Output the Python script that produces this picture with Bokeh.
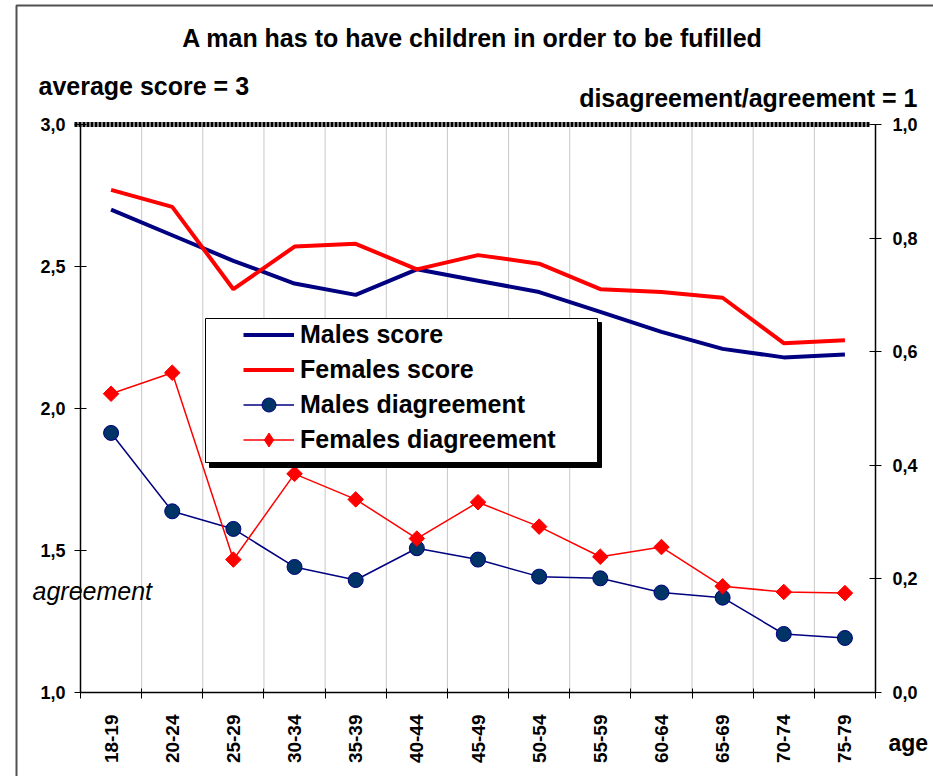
import math
from bokeh.plotting import figure
from bokeh.models import (Range1d, LinearAxis, FixedTicker, CustomJSTickFormatter, Label,
                          Legend, LegendItem, BoxAnnotation)
from bokeh.embed import file_html
from bokeh.resources import INLINE

# ---------------- data ----------------
AGE_GROUPS = ["18-19", "20-24", "25-29", "30-34", "35-39", "40-44", "45-49",
              "50-54", "55-59", "60-64", "65-69", "70-74", "75-79"]
MALES_SCORE = [2.70, 2.61, 2.52, 2.44, 2.40, 2.49, 2.45, 2.41, 2.34, 2.27, 2.21, 2.18, 2.19]
FEMALES_SCORE = [2.77, 2.71, 2.42, 2.57, 2.58, 2.49, 2.54, 2.51, 2.42, 2.41, 2.39, 2.23, 2.24]
MALES_DISAGREE = [0.457, 0.319, 0.288, 0.221, 0.198, 0.254, 0.234, 0.204, 0.201, 0.176, 0.167, 0.103, 0.096]
FEMALES_DISAGREE = [0.526, 0.563, 0.234, 0.385, 0.340, 0.271, 0.335, 0.292, 0.239, 0.256, 0.187, 0.177, 0.175]
SCORE_TICKS = [1.0, 1.5, 2.0, 2.5, 3.0]
RATIO_TICKS = [0.0, 0.2, 0.4, 0.6, 0.8, 1.0]
AVERAGE_SCORE = 3.0

FONT = "Liberation Sans"
NAVY = "#000080"
RED = "#ff0000"
GRID = "#c8c8c8"

# ---------------- geometry (canvas pixels) ----------------
W, H = 933, 776
PL, PR, PT, PB = 80, 875, 124, 692          # plot area edges
N = len(AGE_GROUPS)
Y0, Y1 = SCORE_TICKS[0], SCORE_TICKS[-1]
R0, R1 = RATIO_TICKS[0], RATIO_TICKS[-1]
kx = N / (PR - PL)
ky = (Y1 - Y0) / (PB - PT)
kr = (R1 - R0) / (PB - PT)


def px_x(px):
    return (px - PL) * kx


def px_y(py):
    return Y1 - (py - PT) * ky


xs = [i + 0.5 for i in range(N)]
bounds = list(range(N + 1))

p = figure(width=W, height=H,
           x_range=Range1d(-PL * kx, N + (W - PR) * kx),
           y_range=Range1d(Y0 - (H - PB) * ky, Y1 + PT * ky),
           x_axis_type=None, y_axis_type=None,
           output_backend="svg", toolbar_location=None,
           min_border=0, outline_line_color=None,
           background_fill_color="white", border_fill_color="white")
p.extra_y_ranges = {"ratio": Range1d(R0 - (H - PB) * kr, R1 + PT * kr)}
p.xgrid.visible = False
p.ygrid.visible = False

# outer chart border (top and left edges)
p.add_layout(BoxAnnotation(left=px_x(16), right=px_x(W + 20), top=px_y(5), bottom=px_y(H + 20),
                           fill_alpha=0, line_color="#505050", line_alpha=1, line_width=2))

# vertical grid lines at category boundaries
inner = bounds[1:-1]
p.segment(x0=inner, x1=inner, y0=[Y0] * len(inner), y1=[Y1] * len(inner),
          line_color=GRID, line_width=1)

# axes, pinned to the plot-area edges
xaxis = LinearAxis(fixed_location=Y0, bounds=(0, N),
                   ticker=FixedTicker(ticks=xs, minor_ticks=bounds),
                   formatter=CustomJSTickFormatter(args=dict(labels=AGE_GROUPS),
                                                   code="return labels[Math.round(tick - 0.5)];"))
xaxis.major_tick_line_color = None
xaxis.major_tick_out = 0
xaxis.major_tick_in = 0
xaxis.minor_tick_line_color = "black"
xaxis.minor_tick_in = 4
xaxis.minor_tick_out = 6
xaxis.axis_line_color = "black"
xaxis.axis_line_width = 1.5
xaxis.major_label_orientation = math.pi / 2
xaxis.major_label_standoff = 16
xaxis.major_label_text_font = FONT
xaxis.major_label_text_font_style = "bold"
xaxis.major_label_text_font_size = "19px"
xaxis.major_label_text_color = "black"
p.add_layout(xaxis, "below")

comma_fmt = "return tick.toFixed(1).replace('.', ',');"
laxis = LinearAxis(fixed_location=0, bounds=(Y0, Y1), ticker=FixedTicker(ticks=SCORE_TICKS),
                   formatter=CustomJSTickFormatter(code=comma_fmt))
raxis = LinearAxis(fixed_location=N, bounds=(R0, R1), y_range_name="ratio",
                   ticker=FixedTicker(ticks=RATIO_TICKS),
                   formatter=CustomJSTickFormatter(code=comma_fmt))
for ax in (laxis, raxis):
    ax.major_tick_in = 6
    ax.major_tick_out = 6
    ax.minor_tick_line_color = None
    ax.axis_line_color = "black"
    ax.axis_line_width = 1.5
    ax.major_tick_line_color = "black"
    ax.major_label_text_font = FONT
    ax.major_label_text_font_style = "bold"
    ax.major_label_text_font_size = "18px"
    ax.major_label_text_color = "black"
laxis.major_label_standoff = 9
raxis.major_label_standoff = 11
p.add_layout(laxis, "left")
p.add_layout(raxis, "right")

# average-score reference line
p.segment(x0=[px_x(74)], x1=[px_x(870)], y0=[AVERAGE_SCORE], y1=[AVERAGE_SCORE],
          line_color="black", line_width=5, line_dash="3 1")

# series
r_ms = p.line(xs, MALES_SCORE, line_color=NAVY, line_width=4)
r_fs = p.line(xs, FEMALES_SCORE, line_color=RED, line_width=4)
r_md_l = p.line(xs, MALES_DISAGREE, line_color=NAVY, line_width=1.5, y_range_name="ratio")
r_md_m = p.scatter(xs, MALES_DISAGREE, marker="circle", size=15, fill_color="#003366",
                   line_color=NAVY, line_width=1, y_range_name="ratio")
r_fd_l = p.line(xs, FEMALES_DISAGREE, line_color=RED, line_width=1.5, y_range_name="ratio")
r_fd_m = p.scatter(xs, FEMALES_DISAGREE, marker="square", angle=math.pi / 4, size=11,
                   fill_color=RED, line_color=RED, line_width=1, y_range_name="ratio")
# same series as a diamond glyph, used only for the legend swatch
r_fd_key = p.scatter(xs, FEMALES_DISAGREE, marker="diamond", size=16,
                     fill_color=RED, line_color=RED, line_width=1, y_range_name="ratio",
                     visible=False)

# legend frame with shadow
p.add_layout(BoxAnnotation(left=px_x(209), right=px_x(601), top=px_y(322), bottom=px_y(467),
                           fill_color="black", fill_alpha=1, line_color="black", line_alpha=1,
                           line_width=1))
p.add_layout(BoxAnnotation(left=px_x(205), right=px_x(597), top=px_y(318), bottom=px_y(462),
                           fill_color="white", fill_alpha=1, line_color="black", line_alpha=1,
                           line_width=1))

legend = Legend(items=[
    LegendItem(label="Males score", renderers=[r_ms]),
    LegendItem(label="Females score", renderers=[r_fs]),
    LegendItem(label="Males diagreement", renderers=[r_md_l, r_md_m]),
    LegendItem(label="Females diagreement", renderers=[r_fd_l, r_fd_key]),
], location=(241, H - 459))
legend.background_fill_alpha = 0
legend.border_line_alpha = 0
legend.glyph_width = 51
legend.glyph_height = 35
legend.label_height = 35
legend.spacing = 0
legend.padding = 2
legend.margin = 0
legend.label_standoff = 6
legend.label_text_font = FONT
legend.label_text_font_style = "bold"
legend.label_text_font_size = "25px"
legend.label_text_color = "black"
p.add_layout(legend, "center")


# free texts
def add_text(txt, x, y, align, size="25px", style="bold"):
    p.add_layout(Label(x=x, y=y, text=txt, text_align=align, text_baseline="middle",
                       text_font=FONT, text_font_size=size, text_font_style=style,
                       text_color="black"))


add_text("A man has to have children in order to be fufilled", px_x(472), px_y(37), "center")
add_text("average score = 3", px_x(38), px_y(85), "left")
add_text("disagreement/agreement = 1", px_x(917), px_y(97), "right")
add_text("agreement", px_x(32), px_y(590), "left", size="25px", style="italic")
add_text("age", px_x(888), px_y(742), "left", size="23px")

open("out.html", "w").write(file_html(p, INLINE))
